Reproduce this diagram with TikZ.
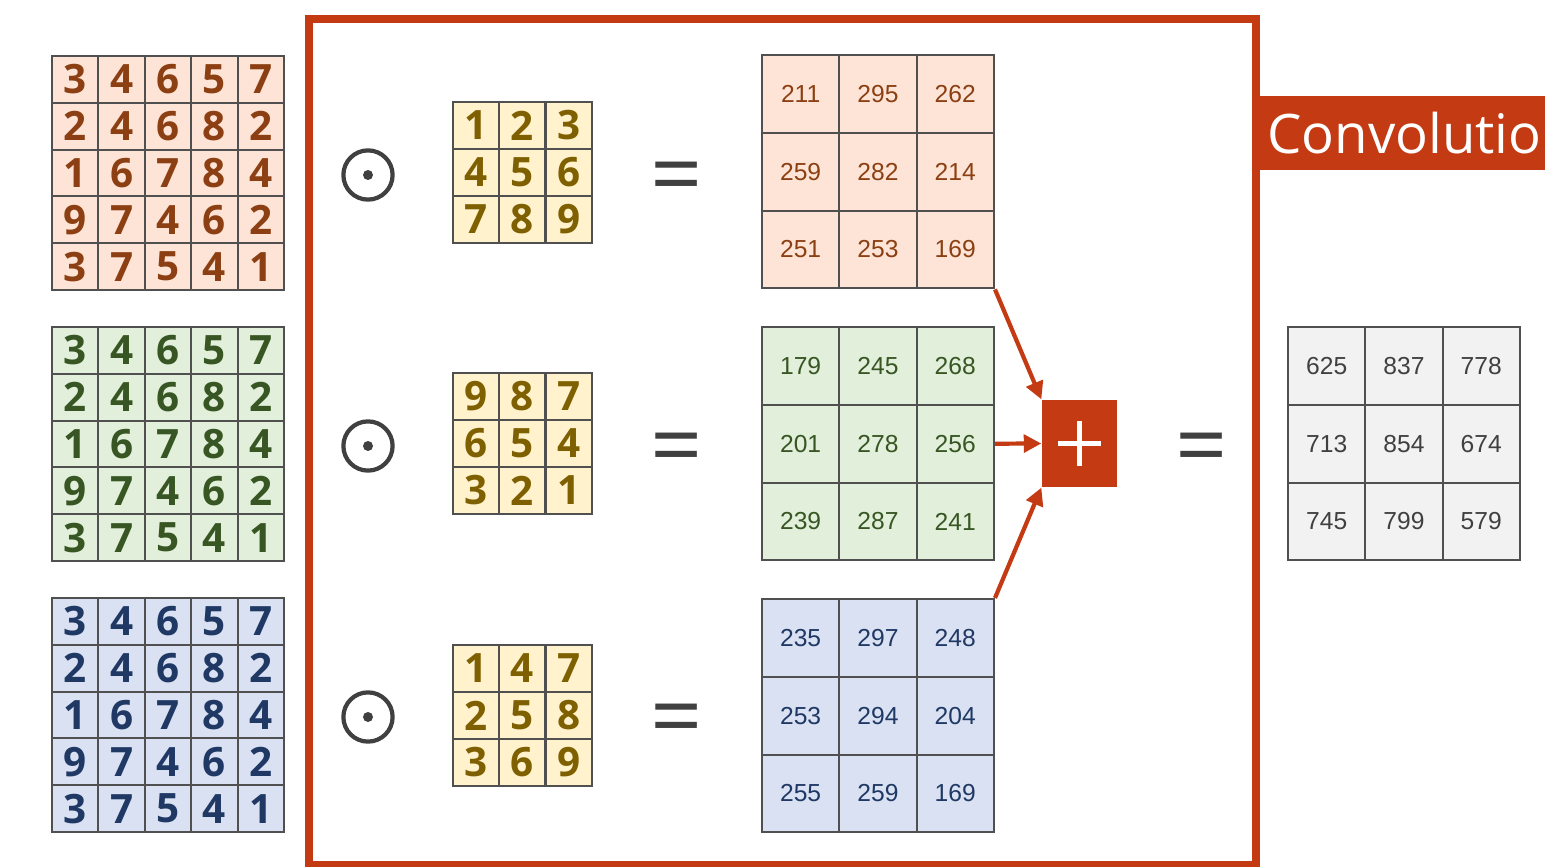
\documentclass[tikz,border=0pt]{standalone}
\usepackage{fontspec}
\setmainfont{Open Sans}
\newfontfamily\arialf{Liberation Sans}
\usetikzlibrary{arrows.meta}
\definecolor{red1}{HTML}{C43A12}
\definecolor{orF}{HTML}{FDE4D6}\definecolor{orT}{HTML}{8B3F12}
\definecolor{grF}{HTML}{E2EFDA}\definecolor{grT}{HTML}{375623}
\definecolor{blF}{HTML}{D9E1F2}\definecolor{blT}{HTML}{1F3864}
\definecolor{kF}{HTML}{FFF2CC}\definecolor{kT}{HTML}{7F6000}
\definecolor{gyF}{HTML}{F2F2F2}\definecolor{gyT}{HTML}{404040}
\definecolor{lineC}{HTML}{505050}
\tikzset{
 big/.style={draw=lineC,line width=0.6pt,minimum width=13.2pt,minimum height=13.3pt,inner sep=0pt,font=\fontsize{11.5}{12}\selectfont\bfseries},
 kern/.style={big,fill=kF,text=kT},
 res/.style={draw=lineC,line width=0.6pt,minimum width=22pt,minimum height=22.1pt,inner sep=0pt,font=\arialf\fontsize{7}{8}\selectfont},
 arr/.style={red1,line width=1.2pt,-{Triangle[length=5pt,width=5pt]}},
 eq/.style={font=\fontsize{26}{26}\selectfont,text=gyT}
}
\begin{document}
\begin{tikzpicture}[x=0.01cm,y=-0.01cm]
\useasboundingbox (0,0) rectangle (1545,867);
% inputs
\foreach \k/\y/\F/\T in {a/56/orF/orT,b/327/grF/grT,c/598/blF/blT}{
 \foreach \row [count=\r from 0] in {{3,4,6,5,7},{2,4,6,8,2},{1,6,7,8,4},{9,7,4,6,2},{3,7,5,4,1}}{
  \foreach \v [count=\c from 0] in \row{
   \node[big,fill=\F,text=\T] (in\k\r\c) at ({52+46.4*\c+23.2},{\y+46.8*\r+23.4}) {\v};
 }}}
% kernels
\foreach \k/\y/\rows in {a/102/{{1,2,3},{4,5,6},{7,8,9}},b/373/{{9,8,7},{6,5,4},{3,2,1}},c/645/{{1,4,7},{2,5,8},{3,6,9}}}{
 \foreach \row [count=\r from 0] in \rows{
  \foreach \v [count=\c from 0] in \row{
   \node[kern] (k\k\r\c) at ({453+46.3*\c+23.15},{\y+47*\r+23.5}) {\v};
 }}}
% results
\foreach \k/\xx/\y/\F/\T/\rows in {a/762/55/orF/orT/{{211,295,262},{259,282,214},{251,253,169}},b/762/327/grF/grT/{{179,245,268},{201,278,256},{239,287,241}},c/762/599/blF/blT/{{235,297,248},{253,294,204},{255,259,169}},f/1288/327/gyF/gyT/{{625,837,778},{713,854,674},{745,799,579}}}{
 \foreach \row [count=\r from 0] in \rows{
  \foreach \v [count=\c from 0] in \row{
   \node[res,fill=\F,text=\T] (r\k\r\c) at ({\xx+77.3*\c+38.65},{\y+77.8*\r+38.9}) {\v};
 }}}
% frame
\draw[red1,line width=2pt] (309,19) rectangle (1256,865);
\node[fill=red1,text=white,minimum height=20.8pt,minimum width=82pt,inner sep=0pt,anchor=west,font=\fontsize{15.5}{16}\selectfont] (conv) at (1256,133) {\hspace*{3pt}Convolution\hspace*{-4pt}};
% operators
\foreach \k/\y in {a/175,b/446,c/717}{
 \node[circle,draw=gyT,line width=1.2pt,minimum size=14pt,inner sep=0pt] (o\k) at (368,\y) {};
 \fill[gyT] (o\k.center) circle (5);
 \node[eq] (e\k) at (677,{\y+9}) {=};
}
\node[fill=red1,minimum width=21.3pt,minimum height=24.7pt,inner sep=0pt] (plus) at (1079.5,443.5) {};
\draw[white,line width=1.3pt] ([xshift=-0.21cm]plus.center)--([xshift=0.21cm]plus.center) ([yshift=-0.22cm]plus.center)--([yshift=0.22cm]plus.center);
\node[eq] (ef) at (1202,455) {=};
\draw[arr] (ra22.south east) -- (plus.north west);
\draw[arr] (rb12.east) -- (plus.west);
\draw[arr] (rc02.north east) -- (plus.south west);
\end{tikzpicture}
\end{document}
